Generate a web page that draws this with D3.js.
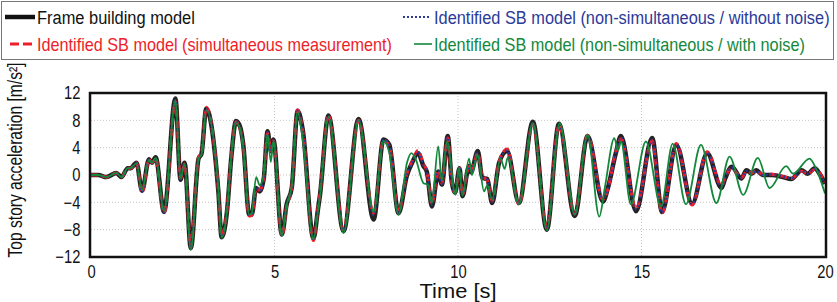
<!DOCTYPE html>
<html>
<head>
<meta charset="utf-8">
<script src="https://cdn.jsdelivr.net/npm/d3@7"></script>
<style>
  body { margin: 0; background: #fff; }
  svg { display: block; font-family: "Liberation Sans", Arial, sans-serif; }
</style>
</head>
<body>
<div class="chart"></div>
<script>
// time grid shared by frame model and the two noise-free identified models
const timeMain = [
  0, 0.20, 0.42, 0.69, 0.83, 1.00, 1.08, 1.24, 1.39, 1.58,
  1.66, 1.76, 1.99, 2.30, 2.44, 2.55, 2.72, 2.93, 3.01, 3.14,
  3.47, 3.56, 3.70, 3.83, 3.95, 4.06, 4.15, 4.31, 4.38, 4.50,
  4.60, 4.71, 4.81, 4.90, 4.97, 5.20, 5.33, 5.47, 5.63, 5.77,
  6.06, 6.19, 6.24, 6.47, 6.88, 7.29, 7.70, 7.97, 8.13, 8.38,
  8.61, 8.75, 8.91, 9.06, 9.15, 9.29, 9.46, 9.56, 9.72, 9.83,
  9.92, 10.04, 10.12, 10.30, 10.35, 10.54, 10.66, 10.80, 10.93, 11.12,
  11.34, 11.66, 12.04, 12.42, 12.75, 13.18, 13.53, 13.95, 14.08, 14.30,
  14.44, 14.85, 15.29, 15.56, 15.95, 16.38, 16.79, 17.18, 17.28, 17.46,
  17.72, 17.86, 18.00, 18.13, 18.30, 18.55, 18.85, 19.08, 19.36, 19.53,
  19.72, 19.85, 20.00
];
const accFrame = [
  0, 0, -0.3, 0.3, -0.3, 1.0, 1.0, 1.8, -2.3, 2.3,
  1.8, 2.6, -5.4, 11.2, -0.7, 1.8, -10.7, 2.4, 3.1, 9.7,
  -2.4, -9.1, -5.6, 3.0, 7.9, 7.1, 4.4, -5.8, -5.8, -1.9,
  -2.4, -0.4, 6.4, 3.5, 5.2, -8.7, -4.3, -1.9, 9.4, 6.6,
  -9.3, -4.8, -2.9, 8.7, -8.2, 8.2, -6.5, 5.2, 4.4, -5.6,
  0.0, 1.8, 3.2, 1.3, 0.5, -4.6, 0.5, -1.4, 5.7, -1.0,
  -2.6, 1.0, -3.1, 1.3, 0.4, 3.5, -0.4, -0.6, -4.1, 1.8,
  3.5, -4.1, 7.8, -8.0, 7.5, -6.0, 5.7, -3.9, -2.0, 3.2,
  5.7, -5.3, 5.4, -5.4, 4.4, -4.2, 3.2, -1.9, -0.5, 1.2,
  -0.5, 0.7, 0.2, 0.7, 0.0, 0.0, -0.3, -0.6, 0.7, 0.2,
  1.0, 0.2, -1.3
];
const accSimultaneous = [
  0, 0, -0.3, 0.3, -0.3, 1.0, 1.0, 1.8, -2.6, 2.3,
  1.8, 2.4, -5.6, 10.8, -0.5, 1.6, -10.5, 2.6, 3.2, 9.9,
  -2.2, -8.9, -5.4, 3.2, 7.8, 6.8, 4.2, -6.0, -5.9, -2.0,
  -2.2, -0.2, 6.2, 3.6, 5.0, -8.9, -4.6, -1.8, 9.5, 6.4,
  -9.6, -4.6, -2.7, 8.8, -8.0, 8.0, -5.6, 5.1, 4.2, -5.4,
  0.2, 2.0, 3.6, 1.6, 0.6, -4.2, 0.7, -1.2, 5.4, -1.0,
  -2.6, 1.0, -2.8, 1.2, 0.6, 3.2, -0.2, -0.8, -3.8, 1.9,
  3.8, -4.3, 7.4, -7.6, 7.3, -5.7, 5.8, -3.6, -2.1, 3.4,
  5.3, -4.9, 5.0, -5.6, 4.6, -4.4, 3.4, -1.6, -0.3, 1.0,
  -0.4, 0.5, 0.3, 0.6, 0.1, 0.1, -0.2, -0.5, 0.6, 0.2,
  0.8, 0.3, -1.1
];
const accNoNoise = [
  0, 0, -0.3, 0.3, -0.3, 1.0, 1.0, 1.8, -2.5, 2.3,
  1.8, 2.5, -5.5, 11.0, -0.6, 1.7, -10.6, 2.5, 3.1, 9.8,
  -2.3, -9.0, -5.5, 3.1, 7.9, 7.0, 4.3, -5.9, -5.8, -1.9,
  -2.3, -0.3, 6.3, 3.5, 5.1, -8.8, -4.5, -1.9, 9.4, 6.5,
  -9.4, -4.7, -2.8, 8.7, -8.1, 8.1, -5.9, 5.2, 4.3, -5.5,
  0.1, 1.9, 3.4, 1.4, 0.5, -4.4, 0.6, -1.3, 5.5, -1.0,
  -2.7, 1.0, -3.0, 1.2, 0.5, 3.3, -0.3, -0.7, -3.9, 1.8,
  3.6, -4.2, 7.6, -7.8, 7.4, -5.8, 5.7, -3.7, -2.0, 3.3,
  5.5, -5.0, 5.2, -5.5, 4.5, -4.3, 3.3, -1.7, -0.4, 1.1,
  -0.4, 0.6, 0.2, 0.6, 0.0, 0.1, -0.2, -0.5, 0.6, 0.2,
  0.9, 0.2, -1.2
];

// identified model with noise has its own time grid
const timeNoise = [
  0, 0.20, 0.42, 0.69, 0.83, 1.00, 1.08, 1.24, 1.39, 1.58,
  1.66, 1.76, 1.99, 2.30, 2.44, 2.55, 2.72, 2.93, 3.01, 3.14,
  3.47, 3.56, 3.70, 3.83, 3.95, 4.06, 4.15, 4.31, 4.38, 4.50,
  4.60, 4.71, 4.81, 4.90, 4.97, 5.20, 5.33, 5.47, 5.63, 5.77,
  6.06, 6.19, 6.24, 6.47, 6.88, 7.29, 7.70, 7.97, 8.13, 8.38,
  8.61, 8.73, 8.85, 9.06, 9.18, 9.29, 9.46, 9.56, 9.70, 9.93,
  10.03, 10.12, 10.30, 10.38, 10.53, 10.71, 10.80, 10.93, 11.16, 11.27,
  11.36, 11.66, 12.04, 12.42, 12.77, 13.18, 13.53, 13.85, 14.00, 14.26,
  14.36, 14.44, 14.71, 15.12, 15.53, 15.85, 16.21, 16.62, 17.04, 17.40,
  17.77, 18.17, 18.49, 18.94, 19.13, 19.58, 19.75, 20.00
];
const accNoise = [
  0, 0, -0.3, 0.3, -0.3, 1.0, 1.0, 1.7, -2.2, 2.2,
  1.8, 2.5, -5.2, 10.9, -0.5, 1.6, -11.0, 2.4, 3.0, 9.5,
  -2.0, -9.2, -5.5, 3.2, 7.7, 6.8, 4.0, -5.8, -5.6, -0.3,
  -1.5, 0.2, 6.0, 1.9, 5.0, -8.9, -4.4, -1.6, 9.2, 5.2,
  -9.4, -5.0, -3.0, 8.5, -8.5, 8.0, -5.4, 5.0, 3.2, -5.8,
  1.8, 3.2, 2.3, -1.2, -1.4, -4.1, 4.2, -0.8, 4.9, -2.9,
  1.1, -3.0, 2.4, 0.0, 3.0, -2.4, -1.5, -3.6, 2.4, 0.9,
  2.6, -4.3, 7.6, -8.1, 7.6, -5.8, 5.9, -6.1, -1.9, 5.4,
  3.6, 4.9, -4.3, 4.9, -4.6, 4.6, -4.3, 4.4, -4.1, 2.7,
  -2.9, 2.5, -1.9, 1.3, 0.2, 2.4, 1.0, -2.7
];

const yTicks = [-12, -8, -4, 0, 4, 8, 12];
const xTicks = [0, 5, 10, 15, 20];

const legendLabels = [
  "Frame building model",
  "Identified SB model (simultaneous measurement)",
  "Identified SB model (non-simultaneous / without noise)",
  "Identified SB model (non-simultaneous / with noise)"
];

// squeeze a text horizontally so it spans the wanted width (narrow font look)
function squeeze(sel, width) {
  const natural = sel.node().getComputedTextLength();
  return natural ? width / natural : 1;
}

function init() {
  const w = 837, h = 302;
  const pLeft = 91, pRight = 825, pTop = 93, pBottom = 257;

  const svg = d3.select(".chart").append("svg")
    .attr("width", w)
    .attr("height", h);

  const x = d3.scaleLinear().domain([0, 20]).range([pLeft, pRight]);
  const y = d3.scaleLinear().domain([-12, 12]).range([pBottom, pTop]);

  // grid
  svg.append("g").selectAll("line")
    .data(yTicks.slice(1, -1))
    .enter().append("line")
    .attr("x1", pLeft).attr("x2", pRight)
    .attr("y1", d => y(d)).attr("y2", d => y(d))
    .attr("stroke", "#c4c4c4").attr("stroke-width", 1)
    .attr("stroke-dasharray", "1,2");
  svg.append("g").selectAll("line")
    .data(xTicks.slice(1, -1))
    .enter().append("line")
    .attr("y1", pTop).attr("y2", pBottom)
    .attr("x1", d => x(d)).attr("x2", d => x(d))
    .attr("stroke", "#c4c4c4").attr("stroke-width", 1)
    .attr("stroke-dasharray", "1,2");

  // axes (labels only)
  const yAxis = svg.append("g")
    .attr("transform", `translate(${pLeft},0)`)
    .call(d3.axisLeft(y).tickValues(yTicks).tickSize(0).tickPadding(13));
  const xAxis = svg.append("g")
    .attr("transform", `translate(0,${pBottom})`)
    .call(d3.axisBottom(x).tickValues(xTicks).tickSize(0).tickPadding(8));
  [yAxis, xAxis].forEach(a => {
    a.select(".domain").remove();
    a.selectAll("text")
      .attr("font-family", "Liberation Sans, Arial, sans-serif")
      .attr("font-size", 18)
      .attr("fill", "#111")
      .attr("transform", "scale(0.82,1)");
  });

  const line = (ts) => d3.line()
    .x((d, i) => x(ts[i]))
    .y(d => y(d))
    .curve(d3.curveMonotoneX);

  const plot = svg.append("g");
  plot.append("path").datum(accFrame)
    .attr("d", line(timeMain))
    .attr("fill", "none").attr("stroke", "#222").attr("stroke-width", 4.5)
    .attr("stroke-linejoin", "round");
  plot.append("path").datum(accSimultaneous)
    .attr("d", line(timeMain))
    .attr("fill", "none").attr("stroke", "#ee1d2a").attr("stroke-width", 3)
    .attr("stroke-dasharray", "7,4");
  plot.append("path").datum(accNoNoise)
    .attr("d", line(timeMain))
    .attr("fill", "none").attr("stroke", "#2b3a99").attr("stroke-width", 2)
    .attr("stroke-dasharray", "2,2.5");
  plot.append("path").datum(accNoise)
    .attr("d", line(timeNoise))
    .attr("fill", "none").attr("stroke", "#13883b").attr("stroke-width", 1.8);

  // plot frame
  svg.append("rect")
    .attr("x", pLeft - 1).attr("y", pTop)
    .attr("width", pRight - pLeft + 2).attr("height", pBottom - pTop)
    .attr("fill", "none").attr("stroke", "#111").attr("stroke-width", 2.5);

  // axis titles
  const yTitle = svg.append("text")
    .attr("text-anchor", "middle")
    .attr("font-size", 20)
    .attr("fill", "#111")
    .text("Top story acceleration [m/s²]");
  yTitle.attr("transform", `translate(22,160) rotate(-90) scale(${squeeze(yTitle, 195)},1)`);

  const xTitle = svg.append("text")
    .attr("text-anchor", "middle")
    .attr("font-size", 20)
    .attr("fill", "#111")
    .text("Time [s]");
  xTitle.attr("transform", `translate(458,298) scale(${squeeze(xTitle, 77)},1)`);

  // legend
  const legend = svg.append("g");
  legend.append("rect")
    .attr("x", 1.5).attr("y", 1.5).attr("width", 832).attr("height", 58)
    .attr("fill", "#fff").attr("stroke", "#777").attr("stroke-width", 1);

  const legendItems = [
    { label: legendLabels[0], color: "#111", x1: 5, x2: 35, tx: 37, ty: 17, len: 158, sw: 4.5, dash: null },
    { label: legendLabels[1], color: "#ee1d2a", x1: 10, x2: 35, tx: 37, ty: 44, len: 355, sw: 3, dash: "9,4" },
    { label: legendLabels[2], color: "#2b3a99", x1: 403, x2: 431, tx: 434, ty: 17, len: 396, sw: 2, dash: "2,2" },
    { label: legendLabels[3], color: "#13883b", x1: 414, x2: 432, tx: 434, ty: 44, len: 371, sw: 1.6, dash: null }
  ];
  legendItems.forEach(d => {
    legend.append("line")
      .attr("x1", d.x1).attr("x2", d.x2).attr("y1", d.ty).attr("y2", d.ty)
      .attr("stroke", d.color).attr("stroke-width", d.sw)
      .attr("stroke-dasharray", d.dash);
    const t = legend.append("text")
      .attr("dy", "0.36em")
      .attr("font-size", 19)
      .attr("fill", d.color)
      .text(d.label);
    t.attr("transform", `translate(${d.tx},${d.ty}) scale(${squeeze(t, d.len)},1)`);
  });
}

window.onload = init;
</script>
</body>
</html>
